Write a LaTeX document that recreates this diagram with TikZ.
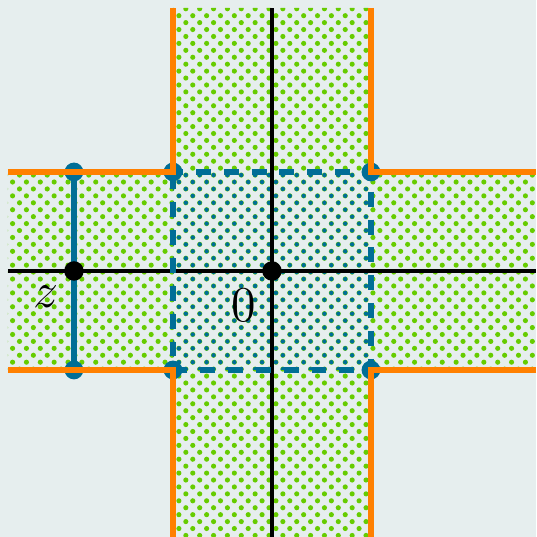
\documentclass[tikz,border=0pt]{standalone}
\usepackage{amsmath}
\definecolor{bg}{RGB}{230,238,238}
\definecolor{orng}{RGB}{255,128,0}
\definecolor{grn}{RGB}{102,204,0}
\definecolor{blu}{RGB}{0,110,150}
\tikzset{%
    vtx/.style={inner sep=0pt,circle,fill=black,minimum size=5.6pt}
}

\begin{document}
\begin{tikzpicture}[
        bdot/.style={circle,fill=blu,inner sep=0pt,minimum size=5.4pt},
        bound/.style={draw=orng,line width=1.8pt},
        axis/.style={draw=black,line width=1pt},
        seg/.style={draw=blu,line width=1.8pt},
        lbl/.style={font=\Large,inner sep=0pt}
        ]
        \fill[bg] (-2.747,-2.687) rectangle (2.667,2.737);
        \useasboundingbox (-2.747,-2.687) rectangle (2.667,2.737);

        % the cross, dotted green
        \begin{scope}
            \clip (-2.667,-1) -- (-1,-1) -- (-1,-2.687) -- (1,-2.687) -- (1,-1)
                -- (2.667,-1) -- (2.667,1) -- (1,1) -- (1,2.657) -- (-1,2.657)
                -- (-1,1) -- (-2.667,1) -- cycle;
            \foreach \i in {-20,...,20}
                \foreach \j in {-20,...,20} {
                    \fill[grn] ({\i*0.14+0.04},{\j*0.14+0.0586}) circle (0.026);
                    \fill[grn] ({\i*0.14+0.11},{\j*0.14+0.1286}) circle (0.026);
                }
        \end{scope}

        % the square, dotted blue
        \begin{scope}
            \clip (-1,-1) rectangle (1,1);
            \foreach \i in {-8,...,8}
                \foreach \j in {-8,...,8} {
                    \fill[blu] ({\i*0.14+0.04},{\j*0.14+0.0586}) circle (0.022);
                    \fill[blu] ({\i*0.14+0.11},{\j*0.14+0.1286}) circle (0.022);
                }
        \end{scope}

        \coordinate (xl) at (-2.667,0);
        \coordinate (xr) at (2.667,0);
        \coordinate (yb) at (0,-2.687);
        \coordinate (yt) at (0,2.657);

        \draw[axis] (xl) -- (xr);
        \draw[axis] (yb) -- (yt);

        \node[bdot] (sq1) at (-1,1){};
        \node[bdot] (sq2) at (1,1){};
        \node[bdot] (sq3) at (1,-1){};
        \node[bdot] (sq4) at (-1,-1){};
        \node[bdot] (zt) at (-2,1){};
        \node[bdot] (zb) at (-2,-1){};

        \draw[draw=blu,line width=1.6pt,dash pattern=on 4.3pt off 3.7pt,dash phase=1.4pt]
            (sq1.center) -- (sq2.center) -- (sq3.center) -- (sq4.center) -- cycle;
        \draw[seg] (zt.center) -- (zb.center);

        % boundary
        \draw[bound] (-2.667,1) -- (sq1.center) -- (-1,2.657);
        \draw[bound] (1,2.657) -- (sq2.center) -- (2.667,1);
        \draw[bound] (2.667,-1) -- (sq3.center) -- (1,-2.687);
        \draw[bound] (-1,-2.687) -- (sq4.center) -- (-2.667,-1);

        \node[vtx] (z) at (-2,0){};
        \node[vtx] (o) at (0,0){};

        \node[lbl] (zlab) at (-2.28,-0.26) {$z$};
        \node[lbl] (olab) at (-0.28,-0.35) {$0$};
    \end{tikzpicture}
\end{document}
